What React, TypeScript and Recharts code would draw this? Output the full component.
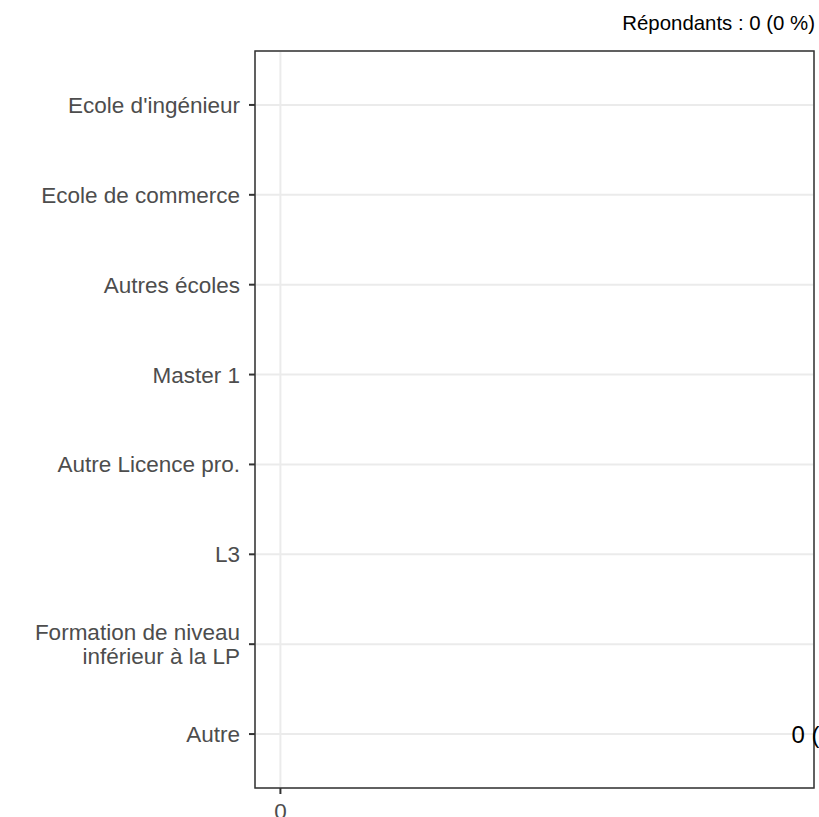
import React from 'react';
import { BarChart, Bar, XAxis, YAxis, CartesianGrid, ReferenceArea, ReferenceDot } from 'recharts';

const categories = [
  "Ecole d'ingénieur",
  'Ecole de commerce',
  'Autres écoles',
  'Master 1',
  'Autre Licence pro.',
  'L3',
  'Formation de niveau\ninférieur à la LP',
  'Autre',
];
const counts = [0, 0, 0, 0, 0, 0, 0, 0];
const xTicks = [0];
const xDomain: [number, number] = [-0.05, 1.05];
const labelX = 1;
const labelCategory = 'Autre';

const FONT = '"Liberation Sans", Arial, Helvetica, sans-serif';
const Y_PAD = 9;

const CategoryTick = (props: any) => {
  const { x, y, payload } = props;
  const lines = String(payload.value).split('\n');
  const lh = 23.5;
  return (
    <text
      x={x}
      y={y - ((lines.length - 1) * lh) / 2}
      textAnchor="end"
      dominantBaseline="central"
      fill="#4d4d4d"
      fontSize={22.5}
      fontFamily={FONT}
    >
      {lines.map((line, i) => (
        <tspan key={i} x={x} dy={i === 0 ? 0 : lh}>
          {line}
        </tspan>
      ))}
    </text>
  );
};

// panel frame: the reference area spans the category bands, grow it by the axis padding
const PanelFrame = (props: any) => {
  const { x, y, width, height } = props;
  return (
    <rect
      x={x}
      y={y - Y_PAD}
      width={width}
      height={height + 2 * Y_PAD}
      fill="none"
      stroke="#333333"
      strokeWidth={1.5}
    />
  );
};

const App: React.FC = () => {
  const data = categories.map((name, i) => ({ name, count: counts[i] }));
  const total = counts.reduce((a, b) => a + b, 0);
  const pct = 0;
  const summary = `${total} (${pct} %)`;

  return (
    <div style={{ position: 'absolute', left: 0, top: 0, width: 819, height: 817, overflow: 'hidden', background: '#fff' }}>
      <div
        style={{
          position: 'absolute',
          right: 4,
          top: 11,
          fontSize: 20.4,
          lineHeight: '24px',
          fontFamily: FONT,
          color: '#000',
          whiteSpace: 'nowrap',
        }}
      >
        Répondants : {summary}
      </div>
      <BarChart
        width={819}
        height={817}
        data={data}
        layout="vertical"
        margin={{ top: 51, right: 5, bottom: 0, left: 0 }}
      >
        <CartesianGrid stroke="#ebebeb" strokeWidth={2} />
        <XAxis
          type="number"
          domain={xDomain}
          ticks={xTicks}
          height={29}
          axisLine={false}
          tickLine={{ stroke: '#333333', strokeWidth: 2 }}
          tickSize={6}
          tickMargin={9}
          tick={{ fill: '#4d4d4d', fontSize: 22.5, fontFamily: FONT }}
        />
        <YAxis
          type="category"
          dataKey="name"
          width={255}
          axisLine={false}
          tickLine={{ stroke: '#333333', strokeWidth: 2 }}
          tickSize={6}
          tickMargin={9}
          padding={{ top: Y_PAD, bottom: Y_PAD }}
          interval={0}
          tick={<CategoryTick />}
        />
        <Bar dataKey="count" fill="#4b9cd3" isAnimationActive={false} />
        <ReferenceDot
          x={labelX}
          y={labelCategory}
          r={0}
          fill="none"
          stroke="none"
          label={{
            value: summary,
            position: 'right',
            offset: 3,
            fill: '#000',
            fontSize: 24,
            fontFamily: FONT,
          }}
        />
        <ReferenceArea
          x1={xDomain[0]}
          x2={xDomain[1]}
          ifOverflow="visible"
          shape={<PanelFrame />}
        />
      </BarChart>
    </div>
  );
};

export default App;
